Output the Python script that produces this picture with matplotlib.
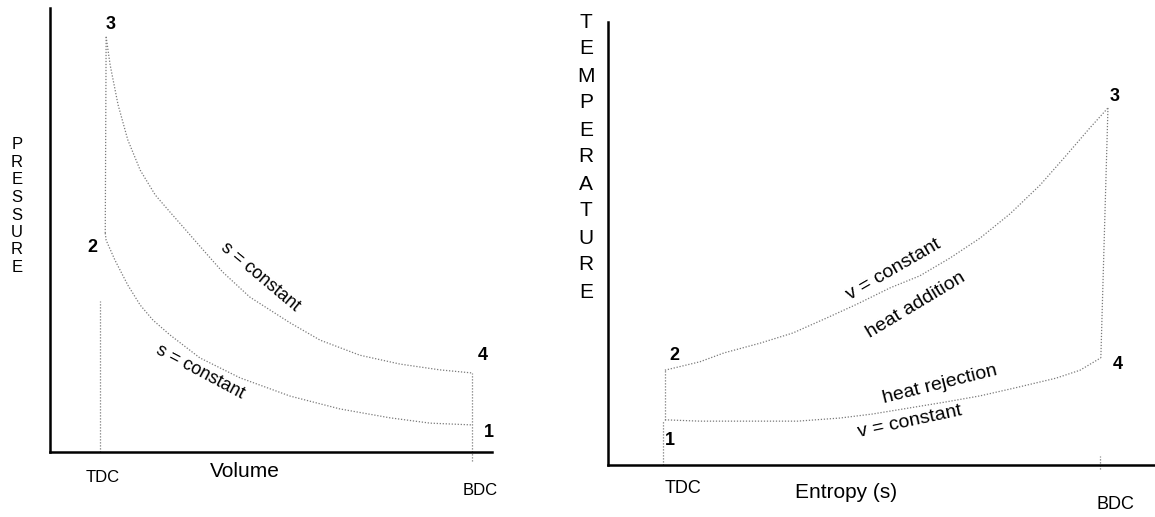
import numpy as np
import matplotlib
matplotlib.use("Agg")
from matplotlib import pyplot as plt

plt.rcParams['font.family'] = ['Liberation Sans', 'DejaVu Sans']

# P-v Diagramm (Otto-Kreisprozess), Werte abgelesen, Einheiten willkuerlich 0..10
# Expansion 3 -> 4 (s = constant)
vol_34 = [1.27, 1.36, 1.54, 1.76, 2.04, 2.38, 2.71, 3.01, 3.51, 3.91, 4.52, 5.43, 6.11, 7.01, 7.92, 8.82, 9.55]
pres_34 = [9.35, 8.72, 7.82, 7.03, 6.35, 5.79, 5.41, 5.07, 4.50, 4.05, 3.49, 2.91, 2.52, 2.18, 1.98, 1.85, 1.78]
# Kompression 1 -> 2 (s = constant), von 2 nach 1 gelistet
vol_21 = [1.25, 1.27, 1.47, 1.76, 2.04, 2.33, 2.71, 3.39, 4.30, 5.43, 6.56, 7.69, 8.60, 9.55]
pres_21 = [4.93, 4.77, 4.32, 3.76, 3.31, 2.97, 2.64, 2.12, 1.67, 1.26, 0.97, 0.77, 0.65, 0.61]
vol_tdc = 1.13
vol_bdc = 9.55

# T-s Diagramm
ent_23 = [1.04, 1.68, 2.12, 2.78, 3.38, 4.00, 4.55, 5.16, 5.70, 6.25, 6.80, 7.35, 7.90, 8.35, 8.81, 9.14]
temp_23 = [2.14, 2.33, 2.53, 2.75, 2.98, 3.32, 3.63, 4.00, 4.27, 4.67, 5.12, 5.67, 6.32, 6.95, 7.61, 8.06]
ent_14 = [1.04, 1.68, 2.41, 3.47, 4.24, 4.83, 5.52, 6.16, 6.80, 7.44, 8.19, 8.63, 9.01]
temp_14 = [1.02, 0.99, 0.99, 0.99, 1.06, 1.15, 1.29, 1.42, 1.56, 1.74, 1.96, 2.14, 2.42]
ent_tdc = 1.0
ent_bdc = 9.0

W, H = 1155, 517
fig = plt.figure(figsize=(W / 100, H / 100), dpi=100)
fig.patch.set_facecolor("white")


def box(x0, y0, x1, y1):
    # Pixelrahmen -> Figurenkoordinaten
    return [x0 / W, 1 - y1 / H, (x1 - x0) / W, (y1 - y0) / H]


ax1 = fig.add_axes(box(50, 8, 492, 452))
ax2 = fig.add_axes(box(608, 22, 1155, 465))
for ax in (ax1, ax2):
    ax.set_xlim(0, 10)
    ax.set_ylim(0, 10)
    ax.spines[['top', 'right']].set_visible(False)
    ax.spines[['left', 'bottom']].set_linewidth(1.8)
    ax.set_xticks([])
    ax.set_yticks([])
    ax.patch.set_alpha(0)

dot = dict(color="#7a7a7a", lw=0.9, ls=(0, (1, 1.4)), clip_on=False)

# --- P-v
ax1.plot(vol_34, pres_34, **dot)
ax1.plot(vol_21, pres_21, **dot)
ax1.plot([vol_21[0], vol_34[0]], [pres_21[0], pres_34[0]], **dot)
ax1.plot([vol_tdc, vol_tdc], [0, 3.4], **dot)
ax1.plot([vol_bdc, vol_bdc], [-0.2, pres_34[-1]], **dot)

num = dict(fontsize=13, fontweight="bold", ha="center", va="center", clip_on=False)
ax1.text(1.38, 9.62, "3", **num)
ax1.text(0.97, 4.6, "2", **num)
ax1.text(9.8, 2.18, "4", **num)
ax1.text(9.93, 0.45, "1", **num)
ax1.text(4.75, 3.94, "s = constant", fontsize=13, rotation=-40, ha="center", va="center")
ax1.text(3.39, 1.80, "s = constant", fontsize=13, rotation=-28, ha="center", va="center")
ax1.text(1.2, -0.58, "TDC", fontsize=12, ha="center", va="center", clip_on=False)
ax1.text(4.41, -0.45, "Volume", fontsize=15, ha="center", va="center", clip_on=False)
ax1.text(9.73, -0.86, "BDC", fontsize=12, ha="center", va="center", clip_on=False)

for i, ch in enumerate("PRESSURE"):
    fig.text(17 / W, 1 - (145 + i * 17.5) / H, ch, fontsize=12, ha="center", va="center")

# --- T-s
ax2.plot(ent_23, temp_23, **dot)
ax2.plot(ent_14, temp_14, **dot)
ax2.plot([ent_23[-1], ent_14[-1]], [temp_23[-1], temp_14[-1]], **dot)
ax2.plot([ent_14[0], ent_23[0]], [temp_14[0], temp_23[0]], **dot)
ax2.plot([ent_tdc, ent_tdc], [0, temp_14[0]], **dot)
ax2.plot([ent_bdc, ent_bdc], [-0.1, 0.2], **dot)

ax2.text(9.27, 8.31, "3", **num)
ax2.text(9.31, 2.26, "4", **num)
ax2.text(1.21, 2.48, "2", **num)
ax2.text(1.13, 0.56, "1", **num)
ax2.text(5.23, 4.40, "v = constant", fontsize=14, rotation=30, ha="center", va="center")
ax2.text(5.63, 3.61, "heat addition", fontsize=14, rotation=31, ha="center", va="center")
ax2.text(6.07, 1.81, "heat rejection", fontsize=14, rotation=14, ha="center", va="center")
ax2.text(5.52, 0.97, "v = constant", fontsize=14, rotation=12, ha="center", va="center")
ax2.text(1.37, -0.52, "TDC", fontsize=13, ha="center", va="center", clip_on=False)
ax2.text(4.35, -0.61, "Entropy (s)", fontsize=15, ha="center", va="center", clip_on=False)
ax2.text(9.27, -0.90, "BDC", fontsize=13, ha="center", va="center", clip_on=False)

for i, ch in enumerate("TEMPERATURE"):
    fig.text(586 / W, 1 - (22 + i * 27.0) / H, ch, fontsize=15, ha="center", va="center")

fig.savefig("out.png", dpi=100)
